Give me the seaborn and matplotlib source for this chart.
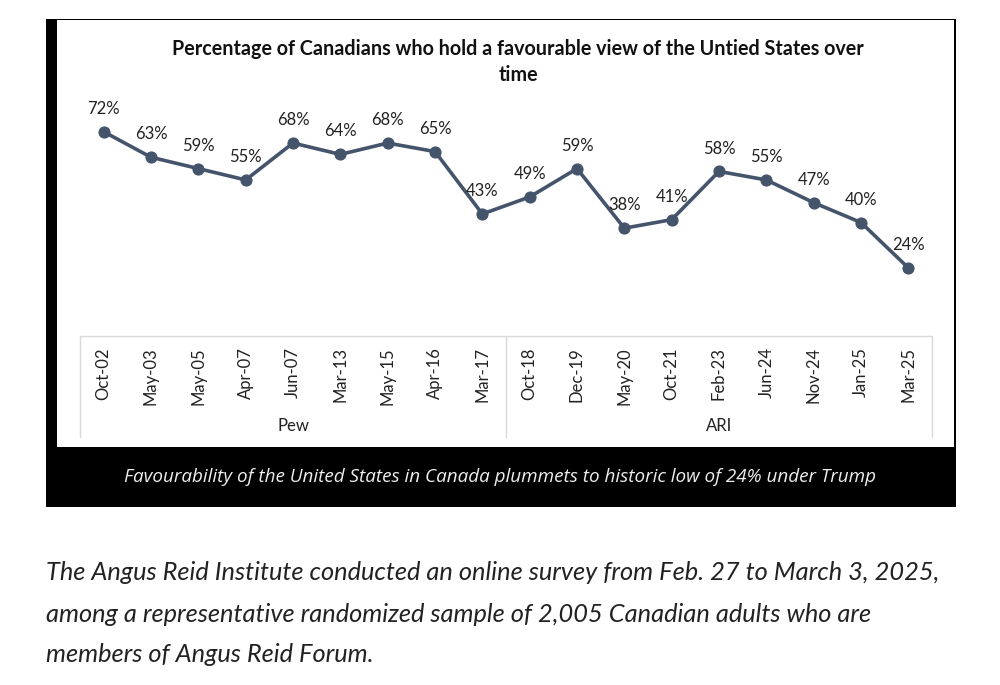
import matplotlib
matplotlib.use("Agg")
import matplotlib.pyplot as plt
from matplotlib.patches import Rectangle
from matplotlib.lines import Line2D
import seaborn as sns
import pandas as pd

categories = ["Oct-02", "May-03", "May-05", "Apr-07", "Jun-07", "Mar-13", "May-15", "Apr-16", "Mar-17",
              "Oct-18", "Dec-19", "May-20", "Oct-21", "Feb-23", "Jun-24", "Nov-24", "Jan-25", "Mar-25"]
values = [72, 63, 59, 55, 68, 64, 68, 65, 43, 49, 59, 38, 41, 58, 55, 47, 40, 24]
groups = ["Pew"] * 9 + ["ARI"] * 9
group_names = ["Pew", "ARI"]

title = "Percentage of Canadians who hold a favourable view of the Untied States over\ntime"
caption = "Favourability of the United States in Canada plummets to historic low of 24% under Trump"
body = ["The Angus Reid Institute conducted an online survey from Feb. 27 to March 3, 2025,",
        "among a representative randomized sample of 2,005 Canadian adults who are",
        "members of Angus Reid Forum."]

sns.set_theme(style="white")
plt.rcParams['font.family'] = ['Lato', 'DejaVu Sans']

W, H = 1000, 685
fig = plt.figure(figsize=(W / 100, H / 100), dpi=100)
fig.patch.set_facecolor("white")

def fx(px):
    return px / W

def fy(py):
    return 1 - py / H

# black frame and white chart area
fig.add_artist(Rectangle((fx(46), fy(507)), fx(956) - fx(46), fy(19) - fy(507),
                         transform=fig.transFigure, facecolor="black", edgecolor="none", zorder=0))
fig.add_artist(Rectangle((fx(57), fy(447)), fx(954) - fx(57), fy(20) - fy(447),
                         transform=fig.transFigure, facecolor="white", edgecolor="none", zorder=0))

ax = fig.add_axes([fx(80), fy(336), fx(932) - fx(80), fy(109) - fy(336)])
ax.set_facecolor("none")
df = pd.DataFrame({"cat": categories, "val": values, "x": range(len(categories))})
line_color = "#44546A"
sns.lineplot(data=df, x="x", y="val", ax=ax, color=line_color, linewidth=2.6,
             marker="o", markersize=8, markeredgecolor=line_color, markerfacecolor=line_color)
ax.set_xlim(-0.5, len(categories) - 0.5)
ax.set_ylim(0, 80)
ax.set_xlabel("")
ax.set_ylabel("")
ax.set_yticks([])
ax.set_xticks(range(len(categories)))
ax.set_xticklabels(categories, rotation=90, fontsize=12, color="#222222")
ax.tick_params(axis="x", length=0, pad=8)
for s in ax.spines.values():
    s.set_visible(False)
ax.spines["bottom"].set_visible(True)
ax.spines["bottom"].set_color("#d9d9d9")
ax.spines["bottom"].set_linewidth(1.0)

for i, v in enumerate(values):
    ax.annotate(f"{v}%", (i, v), xytext=(0, 16.5), textcoords="offset points",
                ha="center", va="center", fontsize=12, color="#222222")

# group separators and labels
sep_color = "#d9d9d9"
bounds = [-0.5]
for i in range(1, len(groups)):
    if groups[i] != groups[i - 1]:
        bounds.append(i - 0.5)
bounds.append(len(groups) - 0.5)
for b in bounds:
    ax.add_line(Line2D([b, b], [0, -35.5], color=sep_color, linewidth=1.0, clip_on=False))
for gi, g in enumerate(group_names):
    idx = [i for i, gg in enumerate(groups) if gg == g]
    mid = (idx[0] + idx[-1]) / 2
    ax.text(mid, -31.8, g, ha="center", va="center", fontsize=12, color="#222222")

fig.text(fx(518), fy(62), title, ha="center", va="center", fontsize=14.2,
         fontweight="bold", color="#111111", linespacing=1.35)

fig.text(fx(500), fy(477), caption, ha="center", va="center", fontsize=13.6,
         style="italic", color="#eeeeee", family=["Open Sans", "DejaVu Sans"])

for k, line in enumerate(body):
    fig.text(fx(46), fy(573 + 41 * k), line, ha="left", va="center", fontsize=18.3,
             style="italic", color="#222222", family=["Lato", "DejaVu Sans"])

fig.savefig("out.png", dpi=100, facecolor="white")
